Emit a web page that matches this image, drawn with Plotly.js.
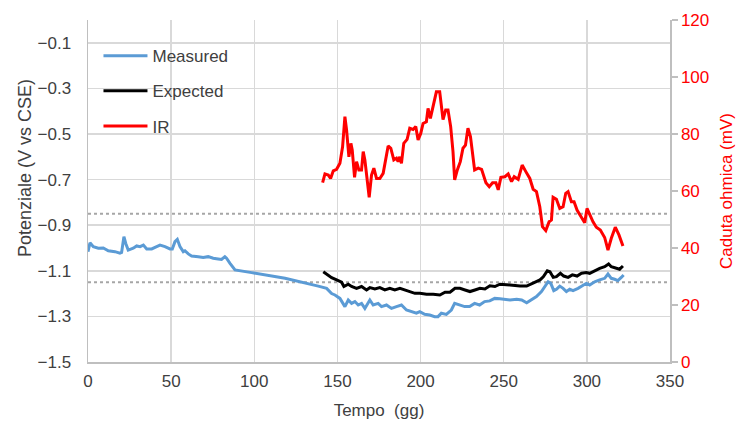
<!DOCTYPE html>
<html>
<head>
<meta charset="utf-8">
<script src="https://cdn.plot.ly/plotly-3.0.1.min.js"></script>
<style>html,body{margin:0;padding:0;background:#fff;}#chart{width:736px;height:425px;}</style>
</head>
<body>
<div id="chart"></div>
<script>
// Measured potential (V vs CSE)
const measuredX = [0,1.2,3.2,6.2,9.2,12.2,16.2,19.2,20.2,21.6,22.7,24.2,27.2,29.3,31.3,33.3,35.3,38.3,41.3,43.3,46.3,49.3,50.7,52.3,53.7,55.3,57.3,58.3,60.3,62.3,66.3,69.3,72.3,75.3,78.3,80.3,82.3,83.3,85.4,88.4,98.4,118.5,138.5,141.5,143.5,146.5,148.5,151.5,154.5,156.5,158.5,160.5,162.5,164.5,166.5,169.5,171.5,174.5,176.5,179.5,182.5,185.5,188.5,191.5,194.5,197.5,199.5,202.5,205.5,208.5,210.5,212.5,215.5,218.5,220.5,223.5,226.5,229.5,232.5,235.5,238.5,241.6,244.6,247.7,253.8,257.8,260.8,263.8,266.8,269.7,272.7,274.7,276.7,278.3,280.1,281.7,283.7,285.7,287.7,289.7,291.7,294.7,297.7,299.7,301.7,304.7,307.7,310.7,312.7,314.7,316.7,318.7,320.7,322.1];
const measuredY = [-1.016,-0.977,-0.994,-1.001,-1.000,-1.012,-1.016,-1.023,-1.020,-0.950,-0.980,-1.009,-1.001,-0.991,-0.994,-0.987,-1.004,-1.004,-0.994,-0.987,-0.994,-1.004,-1.004,-0.972,-0.962,-0.994,-1.016,-1.012,-1.026,-1.035,-1.038,-1.042,-1.038,-1.045,-1.048,-1.050,-1.038,-1.045,-1.067,-1.096,-1.108,-1.133,-1.167,-1.172,-1.177,-1.200,-1.206,-1.221,-1.257,-1.228,-1.243,-1.235,-1.250,-1.243,-1.265,-1.228,-1.250,-1.243,-1.257,-1.250,-1.265,-1.257,-1.250,-1.272,-1.279,-1.286,-1.279,-1.291,-1.294,-1.301,-1.301,-1.286,-1.291,-1.272,-1.243,-1.250,-1.257,-1.257,-1.243,-1.250,-1.235,-1.232,-1.221,-1.223,-1.228,-1.225,-1.228,-1.240,-1.225,-1.213,-1.191,-1.169,-1.148,-1.155,-1.187,-1.181,-1.167,-1.177,-1.191,-1.181,-1.187,-1.177,-1.162,-1.155,-1.162,-1.148,-1.140,-1.133,-1.114,-1.133,-1.137,-1.143,-1.129,-1.118];

// Expected potential (V vs CSE)
const expectedX = [141.5,143.5,146.5,149.5,152.5,153.9,156.5,158.5,161.5,164.5,167.5,169.5,172.5,175.5,178.5,181.5,184.5,187.6,190.6,193.6,196.6,199.6,203.6,207.6,211.6,214.7,217.7,220.7,223.7,226.7,229.7,232.7,235.7,238.7,241.7,244.7,247.7,253.8,259.8,263.8,267.8,271.8,273.8,276.2,277.8,279.8,281.7,284.1,286.1,288.7,291.3,294.1,296.8,299.7,301.7,304.7,307.7,310.7,313.1,314.7,317.3,319.7,321.7];
const expectedY = [-1.104,-1.115,-1.130,-1.140,-1.150,-1.169,-1.159,-1.169,-1.177,-1.169,-1.184,-1.174,-1.180,-1.174,-1.184,-1.177,-1.184,-1.177,-1.184,-1.191,-1.199,-1.199,-1.203,-1.203,-1.206,-1.194,-1.194,-1.177,-1.177,-1.184,-1.191,-1.184,-1.177,-1.180,-1.166,-1.169,-1.159,-1.162,-1.167,-1.167,-1.155,-1.140,-1.126,-1.100,-1.104,-1.129,-1.126,-1.111,-1.123,-1.129,-1.118,-1.123,-1.111,-1.108,-1.111,-1.100,-1.089,-1.082,-1.070,-1.082,-1.089,-1.093,-1.079];

// Ohmic drop IR (mV)
const irX = [141.1,142.5,144.5,145.9,147.5,149.5,151.5,153.1,154.5,155.5,156.9,158.1,158.9,160.3,161.5,162.9,164.5,165.5,166.5,167.5,169.1,170.5,171.9,173.5,175.5,177.5,178.9,180.5,182.1,183.9,185.5,186.5,187.5,188.5,189.9,191.9,193.5,195.5,197.1,198.5,200.1,201.5,203.5,204.5,205.9,207.5,209.5,211.5,213.5,215.1,216.5,218.1,219.5,220.5,222.1,223.9,225.5,227.0,228.5,230.0,231.5,232.5,234.7,236.7,239.3,241.3,243.3,245.3,246.7,248.3,250.7,252.7,254.7,256.3,258.7,261.1,263.3,265.7,267.7,269.7,271.7,273.3,275.3,277.3,278.7,279.7,281.7,283.7,285.7,287.3,288.7,290.7,292.3,294.1,296.7,298.7,300.1,301.7,303.7,305.7,308.1,310.7,312.7,314.7,317.1,319.3,321.7];
const irY = [62.9,66.0,65.6,64.4,67.1,67.6,69.7,75.5,86.1,81.4,72.0,76.7,74.4,64.8,70.3,67.4,67.4,73.8,70.9,66.2,57.8,65.6,68.0,64.4,64.4,66.2,70.9,75.8,75.0,70.9,71.5,70.3,72.0,69.7,76.7,78.1,82.0,81.6,82.6,77.9,80.2,83.7,84.3,89.0,85.5,90.2,94.8,94.8,85.1,88.4,88.4,82.6,73.8,63.9,67.4,70.3,75.0,76.1,82.0,79.1,72.0,67.4,68.0,67.6,62.9,61.5,62.9,62.9,60.4,64.8,65.0,66.0,63.3,65.0,64.1,69.1,66.8,64.4,60.6,59.8,54.5,47.5,46.1,49.2,49.8,57.8,57.1,53.9,54.5,59.2,59.8,56.2,56.2,53.3,50.8,48.9,53.9,51.6,49.2,47.3,46.3,43.7,39.3,43.4,47.3,44.6,40.7];

// Reference potential thresholds (V vs CSE)
const thresholds = [-0.85, -1.15];

const seriesNames = ['Measured', 'Expected', 'IR'];
const xTitle = 'Tempo  (gg)';
const yTitle = 'Potenziale (V vs CSE)';
const y2Title = 'Caduta ohmica (mV)';

const FONT = 'Liberation Sans, Arial, sans-serif';

const traces = [
  {x: measuredX, y: measuredY, name: seriesNames[0], type: 'scatter', mode: 'lines',
   line: {color: '#5b9bd5', width: 3}, legendgroup: 'a', yaxis: 'y'},
  {x: expectedX, y: expectedY, name: seriesNames[1], type: 'scatter', mode: 'lines',
   line: {color: '#000000', width: 3}, legendgroup: 'b', yaxis: 'y'},
  {x: irX, y: irY, name: seriesNames[2], type: 'scatter', mode: 'lines',
   line: {color: '#ff0000', width: 3}, legendgroup: 'c', yaxis: 'y2'}
];

const shapes = thresholds.map(v => ({
  type: 'line', xref: 'x', yref: 'y', x0: 0, x1: 350, y0: v, y1: v,
  line: {color: '#a6a6a6', width: 2, dash: 'dot'}, layer: 'below'
}));

const layout = {
  width: 736, height: 425,
  margin: {l: 88, r: 66, t: 20, b: 63},
  paper_bgcolor: '#ffffff', plot_bgcolor: '#ffffff',
  font: {family: FONT, size: 17, color: '#595959'},
  showlegend: true,
  legend: {x: 0.018, y: 0.947, xanchor: 'left', yanchor: 'top', bgcolor: 'rgba(0,0,0,0)',
           font: {family: FONT, size: 17, color: '#404040'}, traceorder: 'grouped', tracegroupgap: 10,
           itemwidth: 44},
  xaxis: {range: [0, 350], dtick: 50, tick0: 0, showgrid: true, gridcolor: '#d9d9d9', gridwidth: 1.5,
          showline: true, linecolor: '#bfbfbf', linewidth: 1.5, zeroline: false, ticks: '',
          ticklabelstandoff: 3,
          tickfont: {family: FONT, size: 17, color: '#404040'},
          title: {text: xTitle, font: {family: FONT, size: 17, color: '#404040'}, standoff: 14}},
  yaxis: {range: [-1.5, 0], tick0: -1.5, dtick: 0.2, tickformat: '.1f', showgrid: true,
          gridcolor: '#d9d9d9', gridwidth: 1.5, showline: true, linecolor: '#bfbfbf', linewidth: 1.5,
          zeroline: false, ticks: '', ticklabelstandoff: 12,
          tickfont: {family: FONT, size: 17, color: '#404040'}},
  yaxis2: {range: [0, 120], dtick: 20, overlaying: 'y', side: 'right', showgrid: false,
           showline: true, linecolor: '#bfbfbf', linewidth: 1.5, zeroline: false,
           ticks: 'outside', ticklen: 6, tickcolor: '#bfbfbf', tickwidth: 1.5,
           tickfont: {family: FONT, size: 17, color: '#ff0000'},
           title: {text: y2Title, font: {family: FONT, size: 17, color: '#ff0000'}, standoff: 12}},
  annotations: [{
    text: yTitle, textangle: -90, xref: 'paper', yref: 'paper',
    x: -63 / 582, y: 1 - (168 - 20) / 342, xanchor: 'center', yanchor: 'middle',
    showarrow: false, font: {family: FONT, size: 18, color: '#404040'}
  }],
  shapes: shapes
};

Plotly.newPlot('chart', traces, layout, {displayModeBar: false, staticPlot: true});
</script>
</body>
</html>
